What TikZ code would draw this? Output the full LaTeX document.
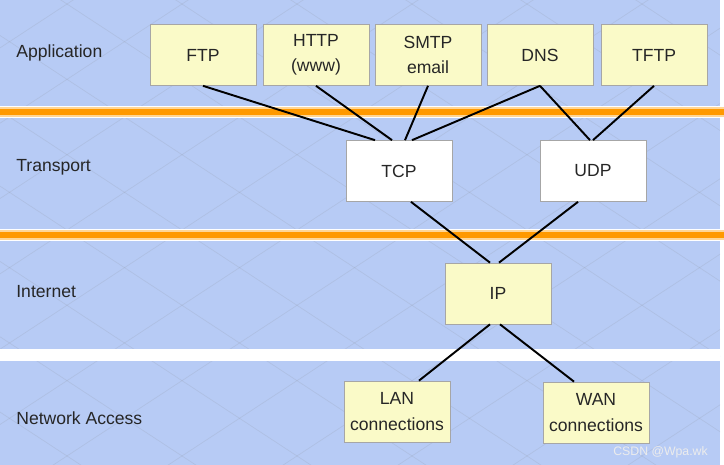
\documentclass[tikz,border=0pt]{standalone}
\usepackage{fontspec}
\setmainfont{Liberation Sans}
\usetikzlibrary{calc}

\definecolor{bandblue}{RGB}{183,203,245}
\definecolor{boxyellow}{RGB}{250,250,200}
\definecolor{rulegold}{RGB}{255,153,0}
\definecolor{rulepale}{RGB}{255,214,150}

\begin{document}
\begin{tikzpicture}[x=0.02cm,y=-0.02cm,
  proto/.style={draw=gray!70,fill=boxyellow,minimum width=2.12cm,minimum height=1.22cm,
    align=center,inner sep=0pt,font=\fontsize{10}{14.5}\selectfont,text=black!85},
  layer/.style={anchor=west,inner sep=0pt,font=\fontsize{10}{12}\selectfont,text=black!85},
  link/.style={line width=1.1pt,black}]
  \useasboundingbox (0,0) rectangle (724,465);
  % background and faint lattice
  \fill[white] (0,0) rectangle (724,465);
  \fill[bandblue] (0,0) rectangle (720,465);
  \begin{scope}
    \clip (0,0) rectangle (720,465);
    \foreach \k in {-6,...,9} {
      \draw[gray,opacity=0.15,line width=0.4pt] ({182+115*\k-600},{230-0.655*600}) -- ({182+115*\k+600},{230+0.655*600});
      \draw[gray,opacity=0.15,line width=0.4pt] ({182+115*\k-600},{230+0.655*600}) -- ({182+115*\k+600},{230-0.655*600});
    }
  \end{scope}
  % layer separators
  \fill[white] (0,106) rectangle (724,118);
  \fill[rulepale] (0,107) rectangle (724,117);
  \fill[rulegold] (0,109) rectangle (724,115);
  \fill[white] (0,229) rectangle (724,241);
  \fill[rulepale] (0,230) rectangle (724,240);
  \fill[rulegold] (0,232) rectangle (724,238);
  \fill[white] (0,349) rectangle (720,361);
  % layer names
  \node[layer] (app) at (16,53) {Application};
  \node[layer] (trans) at (16,167) {Transport};
  \node[layer] (inet) at (16,292) {Internet};
  \node[layer] (netacc) at (16,418) {Network Access};
  % protocols
  \node[proto] (ftp) at (203,55) {FTP};
  \node[proto] (http) at (316,55) {HTTP\\(www)};
  \node[proto] (smtp) at (428,55) {SMTP\\email};
  \node[proto] (dns) at (540,55) {DNS};
  \node[proto] (tftp) at (654,55) {TFTP};
  \node[proto,fill=white] (tcp) at (399,171) {TCP};
  \node[proto,fill=white] (udp) at (593,171) {UDP};
  \node[proto] (ip) at (498,293.5) {IP};
  \node[proto] (lan) at (397,411.5) {LAN\\connections};
  \node[proto] (wan) at (596,412.5) {WAN\\connections};
  % links
  \draw[link] (ftp.south) -- ($(tcp.north)+(-24,0)$);
  \draw[link] (http.south) -- ($(tcp.north)+(-7,0)$);
  \draw[link] (smtp.south) -- ($(tcp.north)+(6,0)$);
  \draw[link] (dns.south) -- ($(tcp.north)+(13,0)$);
  \draw[link] (dns.south) -- ($(udp.north)+(-3,0)$);
  \draw[link] (tftp.south) -- (udp.north);
  \draw[link] ($(tcp.south)+(12,0)$) -- ($(ip.north)+(-8,0)$);
  \draw[link] ($(udp.south)+(-15,0)$) -- ($(ip.north)+(1,0)$);
  \draw[link] ($(ip.south)+(-8,0)$) -- ($(lan.north)+(22,0)$);
  \draw[link] ($(ip.south)+(2,0)$) -- ($(wan.north)+(-22,0)$);
  \node[anchor=east,font=\fontsize{7}{8}\selectfont,text=white!85!gray] (mark) at (714,452) {CSDN @Wpa.wk};
\end{tikzpicture}
\end{document}
